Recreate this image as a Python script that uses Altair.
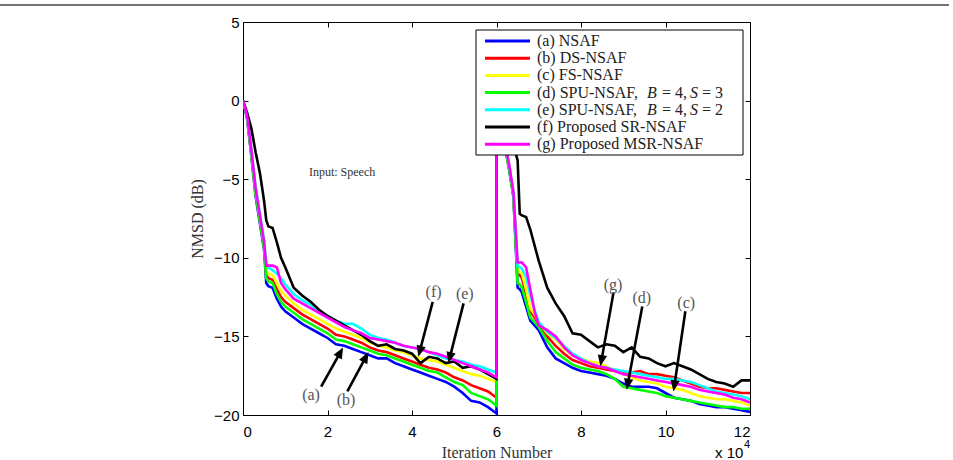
import math

import altair as alt
import pandas as pd

# ---------------------------------------------------------------------------
# Data: NMSD learning curves (dB) versus iteration number (x 10^4).
# The filter is reset at 6 x 10^4 iterations, so each algorithm has two runs.
# ---------------------------------------------------------------------------
ITER_RUN1 = [0.0, 0.1, 0.2, 0.3, 0.4, 0.5, 0.55, 0.6, 0.7, 0.8, 0.9, 1.0,
             1.2, 1.4, 1.6, 1.8, 2.0, 2.2, 2.4, 2.6, 2.8, 3.0, 3.2, 3.4, 3.6,
             3.8, 4.0, 4.2, 4.4, 4.6, 4.8, 5.0, 5.2, 5.4, 5.6, 5.8, 6.0]
ITER_RUN2 = [6.0, 6.1, 6.2, 6.3, 6.4, 6.5, 6.55, 6.6, 6.7, 6.8, 6.9, 7.0,
             7.2, 7.4, 7.6, 7.8, 8.0, 8.2, 8.4, 8.6, 8.8, 9.0, 9.2, 9.4, 9.6,
             9.8, 10.0, 10.2, 10.4, 10.6, 10.8, 11.0, 11.2, 11.4, 11.6, 11.8, 12.0]

SERIES_NAMES = [
    "(a) NSAF",
    "(b) DS-NSAF",
    "(c) FS-NSAF",
    "(d) SPU-NSAF, B = 4, S = 3",
    "(e) SPU-NSAF, B = 4, S = 2",
    "(f) Proposed SR-NSAF",
    "(g) Proposed MSR-NSAF",
]
SERIES_COLORS = ["#0000ff", "#ff0000", "#ffff00", "#00ff00", "#00ffff", "#000000", "#ff00ff"]

NSAF_RUN1 = [0, -1.2, -3.6, -6.1, -7.8, -9.5, -11.6, -11.8, -11.9, -12.6, -13.1, -13.4,
             -13.8, -14.2, -14.5, -14.8, -15.1, -15.5, -15.6, -15.8, -16.0, -16.2, -16.4, -16.4, -16.7,
             -16.9, -17.1, -17.3, -17.5, -17.7, -17.9, -18.2, -18.6, -19.1, -19.2, -19.5, -19.9]
NSAF_RUN2 = [0, -1.3, -2.9, -4.4, -6.1, -11.9, -12.0, -12.2, -13.1, -14.0, -14.3, -14.6,
             -15.7, -16.4, -16.7, -17.0, -17.2, -17.3, -17.4, -17.5, -17.7, -18.0, -18.2, -18.2, -18.2,
             -18.3, -18.6, -18.9, -19.0, -19.1, -19.3, -19.4, -19.5, -19.5, -19.6, -19.7, -19.8]

DS_RUN1 = [0, -1.1, -3.4, -5.9, -7.6, -9.3, -11.1, -11.3, -11.4, -12.0, -12.5, -12.8,
           -13.2, -13.6, -13.9, -14.2, -14.5, -14.9, -15.0, -15.2, -15.4, -15.7, -15.9, -16.0, -16.2,
           -16.4, -16.6, -16.8, -17.0, -17.1, -17.3, -17.6, -17.8, -18.1, -18.3, -18.5, -18.9]
DS_RUN2 = [0, -1.2, -2.8, -4.3, -6.0, -11.0, -11.1, -11.3, -12.3, -13.4, -13.8, -14.2,
           -15.0, -15.6, -16.1, -16.5, -16.7, -16.9, -17.0, -17.1, -17.2, -17.3, -17.3, -17.2, -17.4,
           -17.4, -17.5, -17.6, -17.8, -18.0, -18.2, -18.3, -18.3, -18.4, -18.5, -18.6, -18.6]

FS_RUN1 = [0, -1.0, -3.3, -5.7, -7.4, -9.1, -10.8, -11.0, -11.1, -11.6, -12.1, -12.4,
           -12.9, -13.3, -13.6, -13.9, -14.2, -14.5, -14.7, -14.9, -15.1, -15.4, -15.6, -15.7, -15.9,
           -16.0, -16.2, -16.4, -16.5, -16.6, -16.8, -17.0, -17.2, -17.4, -17.5, -17.7, -17.9]
FS_RUN2 = [0, -1.2, -2.7, -4.2, -5.9, -10.8, -10.9, -11.0, -12.0, -13.2, -13.6, -14.1,
           -14.8, -15.2, -15.8, -16.2, -16.4, -16.6, -16.7, -16.9, -17.2, -17.4, -17.6, -17.8, -17.9,
           -18.0, -18.2, -18.3, -18.4, -18.6, -18.8, -18.9, -19.0, -19.0, -19.1, -19.2, -19.4]

SPU3_RUN1 = [0, -1.1, -3.5, -6.0, -7.7, -9.4, -11.3, -11.5, -11.6, -12.3, -12.8, -13.1,
             -13.5, -13.9, -14.2, -14.5, -14.8, -15.2, -15.3, -15.5, -15.7, -15.9, -16.1, -16.2, -16.4,
             -16.6, -16.8, -17.0, -17.2, -17.3, -17.6, -17.9, -18.1, -18.6, -18.8, -19.0, -19.4]
SPU3_RUN2 = [0, -1.3, -2.9, -4.4, -6.1, -11.6, -11.7, -11.9, -12.8, -13.8, -14.1, -14.4,
             -15.3, -16.0, -16.4, -16.8, -17.0, -17.1, -17.2, -17.4, -17.7, -18.2, -18.3, -18.4, -18.5,
             -18.6, -18.8, -18.9, -19.0, -19.1, -19.2, -19.3, -19.4, -19.5, -19.5, -19.6, -19.6]

SPU2_RUN1 = [0, -1.0, -3.2, -5.5, -7.2, -8.9, -10.4, -10.6, -10.8, -11.0, -11.3, -11.7,
             -12.3, -12.7, -13.0, -13.4, -13.7, -14.0, -14.2, -14.2, -14.5, -14.9, -15.1, -15.2, -15.4,
             -15.6, -15.7, -15.8, -16.0, -16.2, -16.4, -16.5, -16.6, -16.8, -16.9, -17.1, -17.3]
SPU2_RUN2 = [0, -1.1, -2.7, -4.1, -5.8, -10.5, -10.6, -10.7, -11.2, -12.4, -13.3, -14.1,
             -14.7, -15.1, -15.6, -16.1, -16.4, -16.7, -16.9, -17.0, -17.1, -17.2, -17.3, -17.4, -17.5,
             -17.6, -17.7, -17.7, -17.8, -17.9, -18.1, -18.3, -18.5, -18.6, -18.7, -18.8, -19.0]

SR_RUN1 = [0, -0.8, -1.8, -3.3, -4.6, -6.4, -7.6, -8.0, -8.1, -9.0, -10.0, -10.6,
           -11.9, -12.4, -12.8, -13.3, -13.7, -14.0, -14.3, -14.6, -14.9, -15.3, -15.6, -15.5, -15.8,
           -15.9, -16.1, -16.7, -16.3, -16.4, -16.7, -16.6, -17.0, -16.9, -17.1, -17.4, -17.7]
SR_RUN2 = [0, -0.6, -1.3, -2.0, -2.8, -3.8, -7.2, -7.3, -7.4, -8.2, -9.2, -10.2,
           -11.9, -12.9, -13.7, -14.8, -14.9, -15.3, -15.7, -15.5, -15.6, -16.0, -15.7, -16.3, -16.4,
           -16.7, -16.9, -16.7, -16.9, -17.1, -17.4, -17.7, -17.9, -18.0, -18.2, -17.8, -17.8]

MSR_RUN1 = [0, -1.0, -3.2, -5.6, -7.3, -9.0, -10.5, -10.5, -10.5, -10.6, -11.6, -12.0,
            -12.6, -12.9, -13.2, -13.5, -13.8, -14.1, -14.4, -14.6, -14.8, -15.1, -15.2, -15.3, -15.4,
            -15.6, -15.7, -15.8, -16.0, -16.1, -16.3, -16.5, -16.7, -16.9, -17.1, -17.3, -17.6]
MSR_RUN2 = [0, -1.1, -2.7, -4.1, -5.8, -10.3, -10.3, -10.3, -10.6, -12.0, -13.4, -14.3,
            -14.6, -15.0, -15.7, -16.2, -16.5, -16.7, -16.9, -17.0, -17.2, -17.4, -17.5, -17.6, -17.7,
            -17.8, -17.9, -18.0, -18.1, -18.2, -18.4, -18.5, -18.6, -18.7, -18.9, -19.0, -19.2]

RUNS = [
    (NSAF_RUN1, NSAF_RUN2),
    (DS_RUN1, DS_RUN2),
    (FS_RUN1, FS_RUN2),
    (SPU3_RUN1, SPU3_RUN2),
    (SPU2_RUN1, SPU2_RUN2),
    (SR_RUN1, SR_RUN2),
    (MSR_RUN1, MSR_RUN2),
]

# Arrow annotations: label, label position, arrow start and arrow tip (data units)
ANN_LABELS = ["(a)", "(b)", "(f)", "(e)", "(g)", "(d)", "(c)"]
ANN_TEXT_X = [1.61, 2.44, 4.51, 5.25, 8.76, 9.44, 10.49]
ANN_TEXT_Y = [-18.7, -19.05, -12.2, -12.3, -11.7, -12.55, -12.9]
ARROW_FROM_X = [1.85, 2.47, 4.49, 5.22, 8.77, 9.45, 10.47]
ARROW_FROM_Y = [-18.2, -18.5, -12.8, -12.9, -12.2, -13.1, -13.4]
ARROW_TO_X = [2.37, 2.97, 4.15, 4.86, 8.46, 9.08, 10.19]
ARROW_TO_Y = [-15.7, -16.0, -16.3, -16.7, -16.9, -18.4, -18.5]

X_TICKS = [0, 2, 4, 6, 8, 10, 12]
Y_TICKS = [-20, -15, -10, -5, 0, 5]

# ---------------------------------------------------------------------------
# Layout
# ---------------------------------------------------------------------------
W, H = 507, 393
PAD = {"left": 243, "top": 22, "right": 203, "bottom": 45}
PX_PER_X = W / 12.0
PX_PER_Y = H / 25.0
SERIF = "Liberation Serif"
SANS = "Liberation Sans"

rows = []
for name, (run1, run2) in zip(SERIES_NAMES, RUNS):
    assert len(run1) == len(ITER_RUN1) and len(run2) == len(ITER_RUN2)
    step = 0
    for it, val in zip(ITER_RUN1 + ITER_RUN2, run1 + run2):
        rows.append({"series": name, "iteration": it, "nmsd": val, "step": step})
        step += 1
curves = pd.DataFrame(rows)

x_scale = alt.Scale(domain=[0, 12], nice=False, zero=False)
y_scale = alt.Scale(domain=[-20, 5], nice=False, zero=False)

lines = alt.Chart(curves).mark_line(strokeWidth=2.6, clip=True).encode(
    x=alt.X(
        "iteration:Q",
        scale=x_scale,
        axis=alt.Axis(
            orient="bottom", values=X_TICKS, format="d", ticks=False, domain=False,
            grid=False, labelFont=SANS, labelFontSize=15, labelColor="#000",
            labelPadding=9, title="Iteration Number", titleFont=SERIF,
            titleFontSize=16, titleFontWeight="normal", titleColor="#333",
            titlePadding=5,
        ),
    ),
    y=alt.Y(
        "nmsd:Q",
        scale=y_scale,
        axis=alt.Axis(
            orient="left", values=Y_TICKS, format="d", ticks=False, domain=False,
            grid=False, labelFont=SANS, labelFontSize=15, labelColor="#000",
            labelPadding=4, title="NMSD (dB)", titleFont=SERIF, titleFontSize=16,
            titleFontWeight="normal", titleColor="#333", titlePadding=8,
        ),
    ),
    color=alt.Color(
        "series:N",
        scale=alt.Scale(domain=SERIES_NAMES, range=SERIES_COLORS),
        legend=None,
    ),
    order=alt.Order("step:Q"),
)


# Inward-pointing ticks on all four sides of the frame
def inward_ticks(x_orient, y_orient):
    anchor = pd.DataFrame({"iteration": [0.0], "nmsd": [0.0]})
    common = dict(labels=False, domain=False, grid=False, ticks=True, tickSize=5,
                  tickColor="#000", tickWidth=1, title=None)
    return alt.Chart(anchor).mark_point(opacity=0).encode(
        x=alt.X("iteration:Q", scale=x_scale,
                axis=alt.Axis(orient=x_orient, offset=-H, values=X_TICKS, **common)),
        y=alt.Y("nmsd:Q", scale=y_scale,
                axis=alt.Axis(orient=y_orient, offset=-W, values=Y_TICKS, **common)),
    )


ticks_a = inward_ticks("top", "right")
ticks_b = inward_ticks("bottom", "left")

# Arrows
arrow_rows = []
for lab, tx, ty, fx, fy, ex, ey in zip(ANN_LABELS, ANN_TEXT_X, ANN_TEXT_Y,
                                       ARROW_FROM_X, ARROW_FROM_Y, ARROW_TO_X, ARROW_TO_Y):
    dx = (ex - fx) * PX_PER_X
    dy = -(ey - fy) * PX_PER_Y
    length = math.hypot(dx, dy)
    ux, uy = dx / length, dy / length
    back = 6.0
    arrow_rows.append({
        "label": lab, "tx": tx, "ty": ty, "fx": fx, "fy": fy,
        "sx": ex - ux * back / PX_PER_X, "sy": ey + uy * back / PX_PER_Y,
        "ex": ex, "ey": ey,
        "angle": math.degrees(math.atan2(dx, -dy)) % 360,
    })
arrows_df = pd.DataFrame(arrow_rows)

shafts = alt.Chart(arrows_df).mark_rule(color="#000", strokeWidth=2.6).encode(
    x=alt.X("fx:Q", scale=x_scale, axis=None),
    y=alt.Y("fy:Q", scale=y_scale, axis=None),
    x2="sx:Q",
    y2="sy:Q",
)
heads = alt.Chart(arrows_df).mark_point(
    shape="M0,0L-0.42,1L0.42,1Z", filled=True, color="#000", opacity=1, size=500,
).encode(
    x=alt.X("ex:Q", scale=x_scale, axis=None),
    y=alt.Y("ey:Q", scale=y_scale, axis=None),
    angle=alt.Angle("angle:Q", scale=None),
)
ann_text = alt.Chart(arrows_df).mark_text(
    font=SERIF, fontSize=16, color="#555", align="center", baseline="middle",
).encode(
    x=alt.X("tx:Q", scale=x_scale, axis=None),
    y=alt.Y("ty:Q", scale=y_scale, axis=None),
    text="label:N",
)

input_text = alt.Chart(pd.DataFrame({"t": ["Input: Speech"], "x": [1.56], "y": [-4.55]})).mark_text(
    font=SERIF, fontSize=12, color="#333", align="left", baseline="middle",
).encode(
    x=alt.X("x:Q", scale=x_scale, axis=None),
    y=alt.Y("y:Q", scale=y_scale, axis=None),
    text="t:N",
)

# Legend drawn in the upper right corner of the plot
LEG_LEFT, LEG_RIGHT, LEG_TOP, LEG_BOTTOM = 233, 500, 8, 133
ROW0, ROW_GAP = 19.0, 17.2
SWATCH_X0, SWATCH_X1, TEXT_X = 242, 287, 294

legend_box = alt.Chart(pd.DataFrame({"k": [0]})).mark_rect(
    fill="white", stroke="#000", strokeWidth=1,
).encode(
    x=alt.value(LEG_LEFT), x2=alt.value(LEG_RIGHT),
    y=alt.value(LEG_TOP), y2=alt.value(LEG_BOTTOM),
)
swatch_df = pd.DataFrame({
    "color": SERIES_COLORS,
    "ly": [ROW0 + i * ROW_GAP for i in range(len(SERIES_NAMES))],
})
legend_swatches = alt.Chart(swatch_df).mark_rule(strokeWidth=3).encode(
    x=alt.value(SWATCH_X0), x2=alt.value(SWATCH_X1),
    y=alt.Y("ly:Q", scale=None, axis=None),
    color=alt.Color("color:N", scale=None, legend=None),
)

# Legend label pieces; B and S are set in italic as math symbols
math_offsets = [TEXT_X, TEXT_X + 110, TEXT_X + 125, TEXT_X + 153, TEXT_X + 165]
seg_rows = []
for i, name in enumerate(SERIES_NAMES):
    ly = ROW0 + i * ROW_GAP
    if "B = 4" in name:
        head, rest = name.split(" B = 4, S = ")
        pieces = [(head, False), ("B", True), ("= 4,", False), ("S", True), ("= " + rest, False)]
        for (txt, ital), lx in zip(pieces, math_offsets):
            seg_rows.append({"text": txt, "italic": ital, "lx": lx, "ly": ly})
    else:
        seg_rows.append({"text": name, "italic": False, "lx": TEXT_X, "ly": ly})
seg_df = pd.DataFrame(seg_rows)


def legend_text(italic):
    return alt.Chart(seg_df[seg_df["italic"] == italic]).mark_text(
        font=SERIF, fontSize=16, color="#222", align="left", baseline="middle",
        fontStyle="italic" if italic else "normal",
    ).encode(
        x=alt.X("lx:Q", scale=None, axis=None),
        y=alt.Y("ly:Q", scale=None, axis=None),
        text="text:N",
    )


legend_upright = legend_text(False)
legend_italic = legend_text(True)

# Axis multiplier "x 10^4"
mult_base = alt.Chart(pd.DataFrame({"t": ["x 10"]})).mark_text(
    font=SANS, fontSize=15, color="#000", align="left", baseline="alphabetic",
).encode(x=alt.value(472), y=alt.value(436), text="t:N")
mult_exp = alt.Chart(pd.DataFrame({"t": ["4"]})).mark_text(
    font=SANS, fontSize=11, color="#000", align="left", baseline="alphabetic",
).encode(x=alt.value(501), y=alt.value(426), text="t:N")

# Frame line across the top of the figure
top_border = alt.Chart(pd.DataFrame({"k": [0]})).mark_rule(color="#444", strokeWidth=1.5).encode(
    x=alt.value(-243), x2=alt.value(706), y=alt.value(-17),
)

chart = alt.layer(
    lines, ticks_a, ticks_b, shafts, heads, ann_text, input_text,
    legend_box, legend_swatches, legend_upright, legend_italic,
    mult_base, mult_exp, top_border,
).resolve_axis(
    x="independent", y="independent",
).properties(
    width=W, height=H, padding=PAD, autosize=alt.AutoSizeParams(type="none"),
    background="white",
).configure_view(
    stroke="#000", strokeWidth=1,
)

chart.save("out.html", embed_options={"renderer": "svg", "actions": False})
